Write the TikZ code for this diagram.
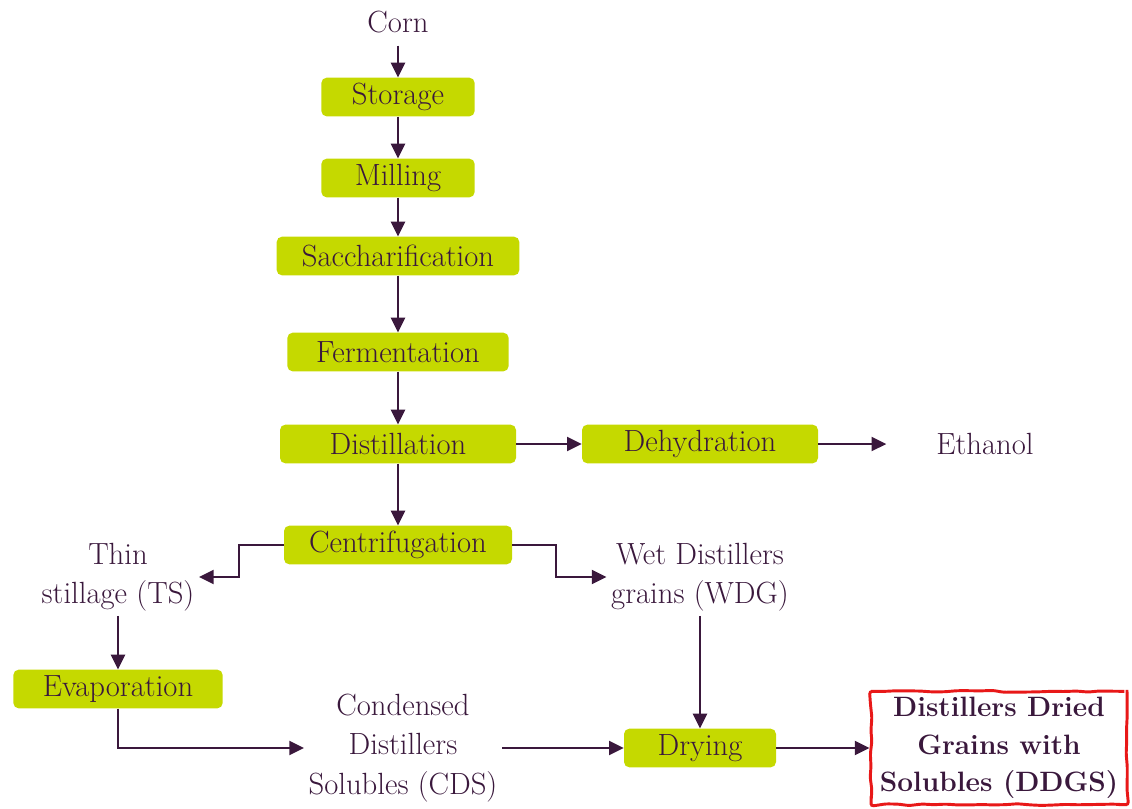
\documentclass[tikz,border=0pt]{standalone}
\usepackage{tikz}
\usetikzlibrary{positioning,arrows.meta,decorations.pathmorphing}
\definecolor{boxgreen}{RGB}{197,217,0}
\definecolor{plum}{RGB}{58,24,60}
\definecolor{ddgsred}{RGB}{232,24,24}

\begin{document}
\begin{tikzpicture}[x=0.75pt,y=-0.75pt,>={Triangle[length=11pt,width=10.5pt]},
  every node/.style={font=\fontsize{23}{29.5}\selectfont,text=plum},
  proc/.style={fill=boxgreen,rounded corners=4pt,minimum height=29pt,inner sep=0pt},
  flow/.style={->,line width=1.5pt,draw=plum}]
  \useasboundingbox (0,0) rectangle (1132,808);
  % main line
  \node (corn) at (398,22) {Corn};
  \node[proc,minimum width=115pt] (stor) at (398,97) {Storage};
  \node[proc,minimum width=115pt] (mill) at (398,178) {Milling};
  \node[proc,minimum width=182pt] (sacc) at (398,256) {Saccharification};
  \node[proc,minimum width=166pt] (ferm) at (398,352) {Fermentation};
  \node[proc,minimum width=177pt] (dist) at (398,444) {Distillation};
  \node[proc,minimum width=177pt] (dehy) at (700,444) {Dehydration};
  \node (eth) at (985,444) {Ethanol};
  \node[proc,minimum width=171pt] (cent) at (398,545) {Centrifugation};
  % split
  \node[align=center] (ts) at (118,577) {Thin\\stillage (TS)};
  \node[align=center] (wdg) at (700,577) {Wet Distillers\\grains (WDG)};
  \node[proc,minimum width=157pt] (evap) at (118,689) {Evaporation};
  \node[align=center] (cds) at (403,748) {Condensed\\Distillers\\Solubles (CDS)};
  \node[proc,minimum width=114pt] (dry) at (700,748) {Drying};
  \node[align=center,fill=white,draw=ddgsred,line width=2.2pt,minimum width=192pt,minimum height=85pt,
    decorate,decoration={random steps,segment length=9pt,amplitude=0.7pt},rounded corners=2pt,
    font=\bfseries\fontsize{21}{28}\selectfont] (ddgs) at (999,748) {Distillers Dried\\Grains with\\Solubles (DDGS)};
  % arrows
  \draw[flow,shorten <=6pt] (corn) -- (stor);
  \draw[flow] (stor) -- (mill);
  \draw[flow] (mill) -- (sacc);
  \draw[flow] (sacc) -- (ferm);
  \draw[flow] (ferm) -- (dist);
  \draw[flow] (dist) -- (cent);
  \draw[flow] (dist) -- (dehy);
  \draw[flow,shorten >=34pt] (dehy) -- (eth);
  \draw[flow] (cent.west) -- ++(-45,0) |- (ts.east);
  \draw[flow] (cent.east) -- ++(44,0) |- (wdg.west);
  \draw[flow] (ts) -- (evap);
  \draw[flow] (evap.south) |- (cds.west);
  \draw[flow] (cds) -- (dry);
  \draw[flow] (wdg) -- (dry);
  \draw[flow] (dry) -- (ddgs);
\end{tikzpicture}
\end{document}
